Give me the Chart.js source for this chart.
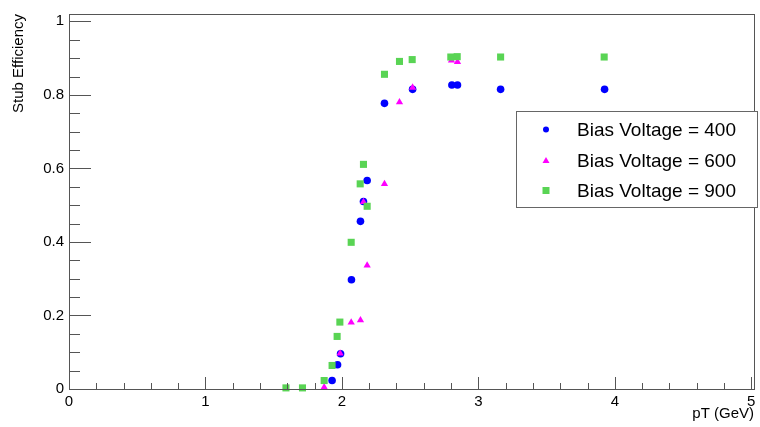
<!DOCTYPE html>
<html>
<head>
<meta charset="utf-8">
<script src="https://cdn.jsdelivr.net/npm/chart.js@4/dist/chart.umd.min.js"></script>
<style>
html,body{margin:0;padding:0;background:#fff;}
#c{display:block;}
</style>
</head>
<body>
<canvas id="c" width="760" height="427"></canvas>
<script>
// ---- data ----
const seriesLabels = ['Bias Voltage = 400', 'Bias Voltage = 600', 'Bias Voltage = 900'];
const pt400  = [1.928, 1.968, 1.99, 2.07, 2.136, 2.158, 2.185, 2.312, 2.518, 2.806, 2.847, 3.163, 3.925];
const eff400 = [0.023, 0.066, 0.096, 0.297, 0.456, 0.510, 0.567, 0.777, 0.815, 0.827, 0.827, 0.815, 0.815];
const pt600  = [1.87, 1.987, 2.068, 2.136, 2.158, 2.185, 2.312, 2.422, 2.518, 2.803, 2.847];
const eff600 = [0.005, 0.097, 0.181, 0.187, 0.509, 0.336, 0.558, 0.780, 0.820, 0.894, 0.890];
const pt900  = [1.59, 1.711, 1.87, 1.928, 1.965, 1.985, 2.068, 2.134, 2.158, 2.185, 2.312, 2.422, 2.515, 2.798, 2.845, 3.163, 3.922];
const eff900 = [0.003, 0.003, 0.023, 0.064, 0.143, 0.182, 0.399, 0.558, 0.611, 0.497, 0.856, 0.891, 0.896, 0.903, 0.904, 0.903, 0.903];
const xTicks = [0, 1, 2, 3, 4, 5];
const yTicks = [0, 0.2, 0.4, 0.6, 0.8, 1];
const xMinorStep = 0.2;
const yMinorStep = 0.05;

function pts(xs, ys){ return xs.map((x,i)=>({x:x, y:ys[i]})); }

const FONT = 'Liberation Sans, Arial, Helvetica, sans-serif';

const rootTicks = {
  id: 'rootTicks',
  afterDraw(chart){
    const {ctx, chartArea:a, scales:{x, y}} = chart;
    ctx.save();
    ctx.strokeStyle = '#555';
    ctx.lineWidth = 1;
    // frame
    ctx.strokeRect(Math.round(a.left)+0.5, Math.round(a.top)+0.5, Math.round(a.right-a.left), Math.round(a.bottom-a.top));
    ctx.beginPath();
    // x ticks
    for (let v = x.min; v <= x.max + 1e-9; v += xMinorStep) {
      const vv = Math.round(v*1000)/1000;
      const major = xTicks.some(t => Math.abs(t-vv) < 1e-6);
      const px = Math.round(x.getPixelForValue(vv)) + 0.5;
      ctx.moveTo(px, a.bottom);
      ctx.lineTo(px, a.bottom - (major ? 12 : 6));
    }
    // y ticks
    for (let v = 0; v <= y.max + 1e-9; v += yMinorStep) {
      const vv = Math.round(v*1000)/1000;
      const major = yTicks.some(t => Math.abs(t-vv) < 1e-6);
      const py = Math.round(y.getPixelForValue(vv)) + 0.5;
      ctx.moveTo(a.left, py);
      ctx.lineTo(a.left + (major ? 22 : 11), py);
    }
    ctx.stroke();

    // legend box
    const L = 516.5, T = 111.5, R = 757.5, B = 207.5;
    ctx.fillStyle = '#fff';
    ctx.fillRect(L, T, R-L, B-T);
    ctx.strokeStyle = '#666';
    ctx.strokeRect(L, T, R-L, B-T);
    const rows = [129.5, 160.5, 190.5];
    chart.data.datasets.forEach((ds, i) => {
      const cy = rows[i];
      ctx.fillStyle = ds.backgroundColor;
      ctx.beginPath();
      if (ds.pointStyle === 'circle') { ctx.arc(546, cy, 3, 0, Math.PI*2); }
      else if (ds.pointStyle === 'triangle') { ctx.moveTo(546, cy-3.5); ctx.lineTo(549.5, cy+2.5); ctx.lineTo(542.5, cy+2.5); ctx.closePath(); }
      else { ctx.rect(542.5, cy-3.5, 7, 7); }
      ctx.fill();
      ctx.fillStyle = '#000';
      ctx.font = '19px ' + FONT;
      ctx.textBaseline = 'middle';
      ctx.textAlign = 'left';
      ctx.fillText(ds.label, 577, cy + 1);
    });
    ctx.restore();
  }
};

new Chart(document.getElementById('c'), {
  type: 'scatter',
  data: {
    datasets: [
      { label: seriesLabels[0], data: pts(pt400, eff400), pointStyle: 'circle', pointRadius: 3.8,
        backgroundColor: '#0000ff', borderColor: '#0000ff', borderWidth: 0, order: 3, clip: false },
      { label: seriesLabels[1], data: pts(pt600, eff600), pointStyle: 'triangle', pointRadius: 4.2,
        backgroundColor: '#ff00ff', borderColor: '#ff00ff', borderWidth: 0, order: 2, clip: false },
      { label: seriesLabels[2], data: pts(pt900, eff900), pointStyle: 'rect', pointRadius: 5,
        backgroundColor: '#59d454', borderColor: '#59d454', borderWidth: 0, order: 1, clip: false }
    ]
  },
  options: {
    responsive: false,
    devicePixelRatio: 1,
    animation: false,
    events: [],
    layout: { padding: { top: 8, right: 6, left: 0, bottom: 0 } },
    plugins: { legend: { display: false }, tooltip: { enabled: false } },
    scales: {
      x: {
        type: 'linear', min: 0, max: 5.02,
        afterFit(s){ s.height = 38; },
        afterBuildTicks(s){ s.ticks = xTicks.map(v => ({value: v})); },
        grid: { display: false, drawTicks: false },
        border: { display: false },
        ticks: { padding: 4, color: '#000', font: { family: FONT, size: 15 },
                 maxRotation: 0, autoSkip: false, callback: v => String(v) },
        title: { display: true, text: 'pT (GeV)', align: 'end', color: '#000',
                 font: { family: FONT, size: 15 }, padding: { top: 0, bottom: 4 } }
      },
      y: {
        type: 'linear', min: 0, max: 1.02,
        afterFit(s){ s.width = 69; },
        afterBuildTicks(s){ s.ticks = yTicks.map(v => ({value: v})); },
        grid: { display: false, drawTicks: false },
        border: { display: false },
        ticks: { padding: 5, color: '#000', font: { family: FONT, size: 15 },
                 autoSkip: false, callback: v => String(v) },
        title: { display: true, text: 'Stub Efficiency', align: 'end', color: '#000',
                 font: { family: FONT, size: 15 }, padding: { top: 10, bottom: 0 } }
      }
    }
  },
  plugins: [rootTicks]
});
</script>
</body>
</html>
